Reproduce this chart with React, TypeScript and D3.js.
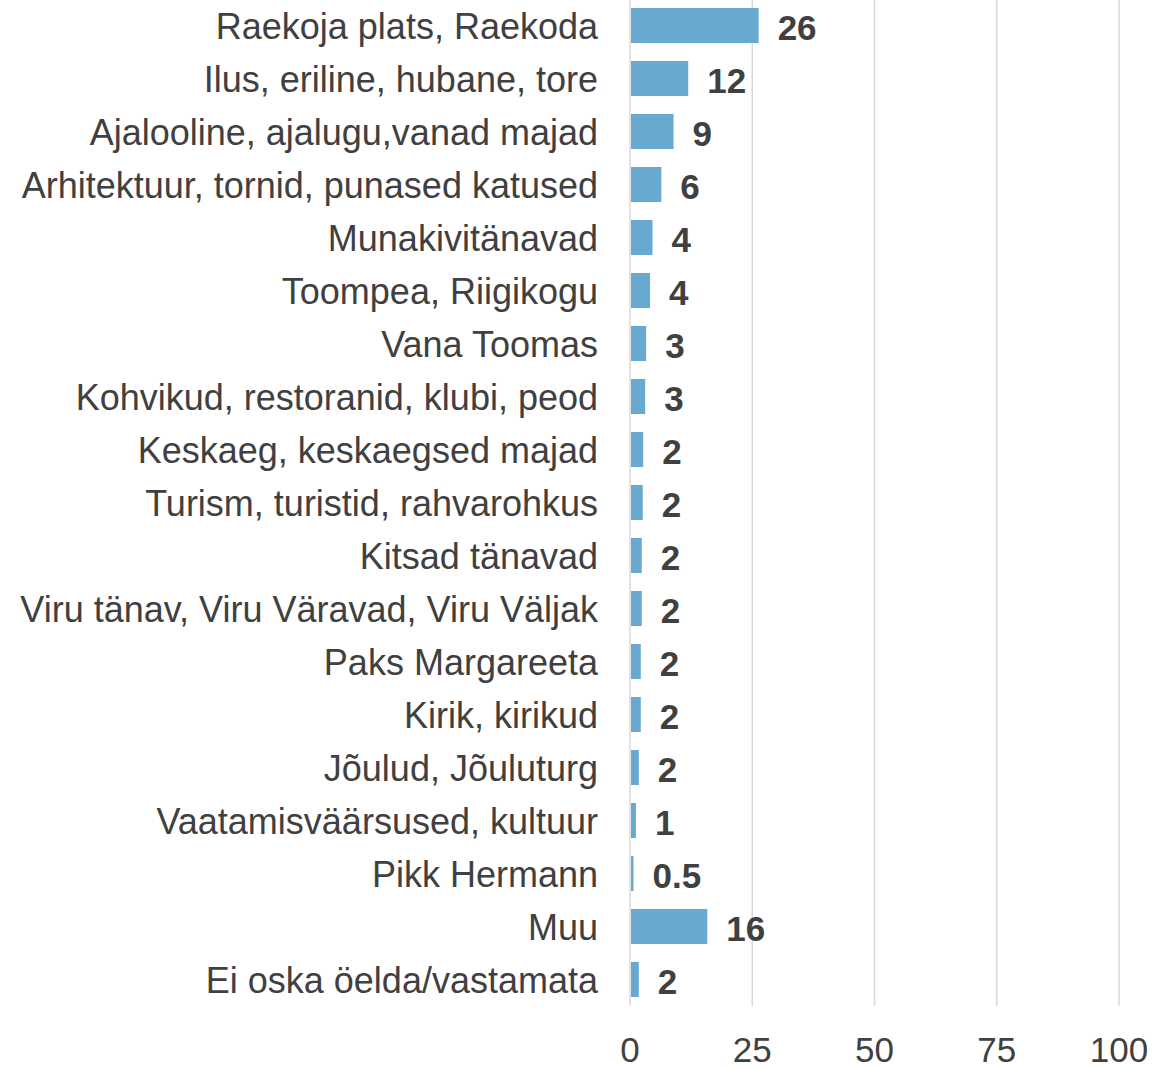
import React, { useEffect, useRef } from 'react';
import * as d3 from 'd3';

const categories = [
  'Raekoja plats, Raekoda',
  'Ilus, eriline, hubane, tore',
  'Ajalooline, ajalugu,vanad majad',
  'Arhitektuur, tornid, punased katused',
  'Munakivitänavad',
  'Toompea, Riigikogu',
  'Vana Toomas',
  'Kohvikud, restoranid, klubi, peod',
  'Keskaeg, keskaegsed majad',
  'Turism, turistid, rahvarohkus',
  'Kitsad tänavad',
  'Viru tänav, Viru Väravad, Viru Väljak',
  'Paks Margareeta',
  'Kirik, kirikud',
  'Jõulud, Jõuluturg',
  'Vaatamisväärsused, kultuur',
  'Pikk Hermann',
  'Muu',
  'Ei oska öelda/vastamata',
];

// bar lengths
const values = [26.1, 11.7, 8.7, 6.2, 4.4, 3.9, 3.1, 2.9, 2.5, 2.4, 2.2, 2.2, 2.0, 2.0, 1.6, 1.0, 0.5, 15.6, 1.6];

// data labels as printed on the chart
const valueLabels = ['26', '12', '9', '6', '4', '4', '3', '3', '2', '2', '2', '2', '2', '2', '2', '1', '0.5', '16', '2'];

const xTicks = [0, 25, 50, 75, 100];

export default function App() {
  const svgRef = useRef<SVGSVGElement>(null);

  useEffect(() => {
    const width = 1175;
    const height = 1068;
    const margin = { top: -1, right: 55, bottom: 62, left: 630 };
    const font = '"Liberation Sans", Arial, sans-serif';

    const svg = d3.select(svgRef.current);
    svg.selectAll('*').remove();
    svg.attr('width', width).attr('height', height);

    const x = d3.scaleLinear()
      .domain([0, 100])
      .range([margin.left, margin.left + 489]);

    const y = d3.scaleBand<string>()
      .domain(categories)
      .range([margin.top, height - margin.bottom])
      .paddingInner(0.34)
      .paddingOuter(0.17);

    // gridlines
    svg.append('g')
      .selectAll('line')
      .data(xTicks)
      .enter()
      .append('line')
      .attr('x1', d => x(d))
      .attr('x2', d => x(d))
      .attr('y1', 0)
      .attr('y2', height - margin.bottom)
      .attr('stroke', '#d9d9d9')
      .attr('stroke-width', 1.5);

    // bars
    svg.append('g')
      .selectAll('rect')
      .data(values)
      .enter()
      .append('rect')
      .attr('x', x(0) + 1)
      .attr('y', (d, i) => y(categories[i])!)
      .attr('width', d => Math.max(0, x(d) - x(0)))
      .attr('height', y.bandwidth())
      .attr('fill', '#67a9cf');

    // data labels
    svg.append('g')
      .selectAll('text')
      .data(values)
      .enter()
      .append('text')
      .attr('x', d => x(d) + 20)
      .attr('y', (d, i) => y(categories[i])! + y.bandwidth() / 2)
      .attr('dy', 14)
      .attr('font-family', font)
      .attr('font-size', 35)
      .attr('font-weight', 'bold')
      .attr('fill', '#404040')
      .text((d, i) => valueLabels[i]);

    // category labels
    svg.append('g')
      .selectAll('text')
      .data(categories)
      .enter()
      .append('text')
      .attr('x', margin.left - 32)
      .attr('y', d => y(d)! + y.bandwidth() / 2)
      .attr('dy', 13)
      .attr('text-anchor', 'end')
      .attr('font-family', font)
      .attr('font-size', 36)
      .attr('fill', '#404040')
      .text(d => d);

    // x axis tick labels
    svg.append('g')
      .selectAll('text')
      .data(xTicks)
      .enter()
      .append('text')
      .attr('x', d => x(d))
      .attr('y', 1062)
      .attr('text-anchor', 'middle')
      .attr('font-family', font)
      .attr('font-size', 35)
      .attr('fill', '#404040')
      .text(d => d);
  }, []);

  return <svg ref={svgRef} style={{ position: 'absolute', left: 0, top: 0, display: 'block' }}></svg>;
}
